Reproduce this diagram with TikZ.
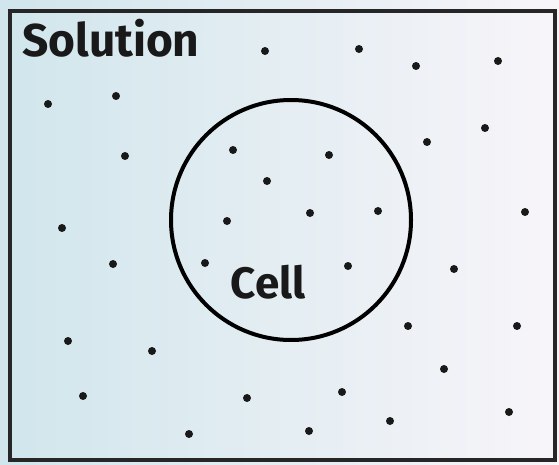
\documentclass[tikz,border=0pt]{standalone}
\usepackage{fontspec}
\setsansfont{Fira Sans}
\usetikzlibrary{positioning}

\definecolor{bgblue}{RGB}{208,230,236}
\definecolor{bgpink}{RGB}{242,228,240}
\definecolor{bgwhite}{RGB}{248,245,249}

\begin{document}
\begin{tikzpicture}[
  x=1pt, y=-1pt,
  font=\sffamily,
  box/.style={draw=black!85, line width=3.2pt, minimum width=545pt, minimum height=449pt, inner sep=0pt},
  membrane/.style={circle, draw=black, line width=4pt, minimum size=240pt, inner sep=0pt},
  particle/.style={circle, fill=black!90, inner sep=0pt, minimum size=8pt},
  lab/.style={font=\sffamily\bfseries\fontsize{#1}{#1}\selectfont, text=black!90, inner sep=0pt},
  lab/.default=44,
]
\useasboundingbox (0,0) rectangle (559,465);
\shade[left color=bgblue, middle color=bgpink, right color=bgwhite] (0,0) rectangle (559,465);

% ---------- Solution ----------
\node[box] (solution) at (282.5,235.5) {};
\node[lab=46, anchor=base west] (solab) at (22,57) {Solution};

% ---------- Cell ----------
\node[membrane] (cell) at (291,220) {};
\node[lab, anchor=base] (celllab) at (268,298) {Cell};

% ---------- Particles ----------
\foreach \px/\py [count=\i] in {
  265/51, 359/49, 416/66, 498/61, 48/104, 116/96, 125/156, 233/150,
  329/155, 427/142, 485/128, 267/181, 227/221, 310/213, 378/211, 525/212,
  62/228, 113/264, 205/263, 348/266, 454/269, 408/326, 517/326, 68/341,
  152/351, 444/369, 83/396, 247/398, 342/392, 509/412, 390/421, 309/431,
  189/434}
  \node[particle] (p\i) at (\px,\py) {};

\end{tikzpicture}
\end{document}
